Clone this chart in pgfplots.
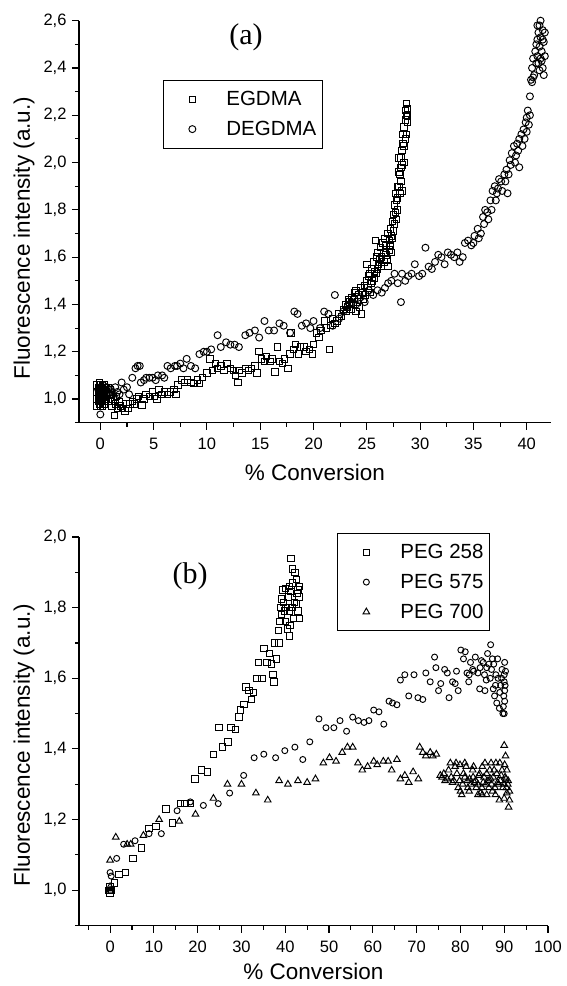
\documentclass[border=0pt]{standalone}
\usepackage{fontspec}
\setmainfont{Liberation Sans}
\newfontfamily\timesfont{Liberation Serif}
\usepackage{pgfplots}
\pgfplotsset{compat=1.18}

% circle with a dot in the middle (PEG 575)
\pgfdeclareplotmark{odot}{%
  \pgfpathcircle{\pgfpointorigin}{\pgfplotmarksize}\pgfusepathqstroke
  \pgfpathcircle{\pgfpointorigin}{0.3\pgfplotmarksize}\pgfusepathqfill}

\pgfplotsset{
  origin/.style={
    scale only axis,
    axis lines=left,
    x axis line style={-}, y axis line style={-},
    axis line style={line width=1.1pt},
    tick align=outside,
    major tick length=7pt, minor tick length=4pt,
    every tick/.style={black, line width=1.1pt},
    tick label style={font=\fontsize{16.5}{18}\selectfont},
    xticklabel style={yshift=-5pt},
    yticklabel style={xshift=-2pt},
    label style={font=\fontsize{22.5}{24}\selectfont, inner sep=1pt},
    /pgf/number format/assume math mode=true,
    yticklabel style={/pgf/number format/.cd, fixed, fixed zerofill, precision=1, use comma},
    legend cell align=left,
    legend style={draw=black, line width=0.8pt, inner xsep=6pt, inner ysep=11pt,
      row sep=14pt, font=\fontsize{20.5}{22}\selectfont,
      nodes={inner sep=0pt}},
    legend image code/.code={%
      \path[draw=none] (-23pt,0pt) -- (34pt,0pt);
      \draw[##1] plot[only marks] coordinates {(0pt,0pt)};},
  },
  pts/.style={only marks, mark options={solid, black, line width=0.95pt, fill=white}},
}

\begin{document}
\begin{tikzpicture}
\useasboundingbox (0,0) rectangle (566pt,986pt);

% ---- panel (a) ----
\begin{axis}[origin,
  at={(79pt,563.3pt)}, anchor=south west,
  width=471.7pt, height=402pt,
  xmin=-2, xmax=42.25, ymin=0.9, ymax=2.6,
  xtick={0,5,...,40}, minor xtick={2.5,7.5,...,37.5},
  ytick={1.0,1.2,...,2.6}, minor ytick={0.9,1.1,1.3,1.5,1.7,1.9,2.1,2.3,2.5},
  xlabel={\% Conversion}, ylabel={Fluorescence intensity (a.u.)},
  xlabel style={at={(axis description cs:0.5,-0.125)}, anchor=center},
  ylabel style={at={(axis description cs:-0.1166,0.459)}, anchor=center},
  legend style={at={(axis description cs:0.178,0.8525)}, anchor=north west},
]
\addplot[pts, mark=square, mark size=3.2pt] coordinates {
(-0.3,1.06)(-0.3,1.03)(-0.3,1.00)(-0.3,0.97)(-0.2,1.05)(-0.2,1.02)(-0.2,0.99)
(-0.1,1.07)(-0.1,1.04)(-0.1,1.01)(-0.1,0.98)(0,1.06)(0,1.03)(0,1.00)(0,0.97)
(0.1,1.05)(0.1,1.02)(0.1,0.99)(0.2,1.06)(0.2,1.03)(0.2,1.00)(0.2,0.97)
(0.3,1.04)(0.3,1.01)(0.4,1.06)(0.4,1.02)(0.4,0.98)(0.5,1.05)(0.5,1.00)
(0.6,1.03)(0.7,1.05)(0.7,0.99)(0.8,1.02)(0.9,1.04)(1.0,0.99)(1.0,1.02)
(1.1,0.97)(1.2,1.00)(1.3,0.93)(1.4,0.98)(1.5,1.01)(1.6,0.96)(1.8,0.99)
(1.9,0.97)(2.1,0.96)(2.3,0.95)(2.4,0.98)(2.6,0.96)(2.8,0.98)(3.0,0.99)
(3.2,0.98)(3.4,1.00)(3.6,1.01)(3.9,0.975)(4.1,1.00)(4.3,1.02)(4.6,1.01)
(4.9,1.03)(5.1,1.01)(5.3,1.00)(5.5,1.04)(5.8,1.02)(6.0,1.03)(6.3,1.02)
(6.6,1.03)(6.9,1.04)(7.1,1.02)(7.3,1.06)(7.6,1.08)(7.9,1.07)(8.2,1.08)
(8.5,1.07)(8.8,1.065)(9.1,1.08)(9.3,1.065)(9.6,1.09)(10.0,1.11)(10.3,1.17)
(10.5,1.12)(10.8,1.15)(11.0,1.13)(11.3,1.14)(11.6,1.12)(11.9,1.15)(12.2,1.13)
(12.5,1.12)(12.7,1.10)(12.9,1.07)(13.0,1.12)(13.3,1.11)(13.6,1.13)(13.9,1.12)
(14.2,1.13)(14.5,1.14)(14.7,1.11)(14.9,1.20)(15.1,1.17)(15.4,1.16)(15.6,1.18)
(15.9,1.16)(16.1,1.17)(16.4,1.115)(16.6,1.22)(16.8,1.16)(17.1,1.15)(17.3,1.17)
(17.6,1.13)(17.8,1.19)(17.9,1.28)(18.1,1.21)(18.3,1.23)(18.6,1.19)(18.8,1.22)
(19.1,1.22)(19.3,1.20)(19.6,1.21)(19.9,1.19)(20.0,1.23)(20.3,1.28)(20.5,1.26)
(20.7,1.29)(21.0,1.33)(21.2,1.30)(21.5,1.21)(21.6,1.31)(21.8,1.34)(22.0,1.32)
(22.2,1.33)(22.4,1.36)(22.6,1.35)(22.8,1.38)(23.0,1.40)(23.2,1.39)(23.4,1.41)
(23.6,1.43)(23.8,1.42)(24.0,1.46)(24.0,1.37)(24.2,1.44)(24.4,1.47)(24.5,1.36)
(24.6,1.45)(24.8,1.48)(25.0,1.57)(25.0,1.50)(25.2,1.52)(25.3,1.53)(25.4,1.49)
(25.5,1.55)(25.6,1.58)(25.7,1.54)(25.8,1.67)(25.9,1.60)(26.0,1.62)(26.1,1.57)
(26.3,1.64)(26.4,1.60)(26.5,1.66)(26.6,1.62)(26.7,1.68)(26.8,1.65)(27.0,1.56)
(27.0,1.70)(27.1,1.67)(27.2,1.72)(27.3,1.69)(27.4,1.75)(27.5,1.78)(27.6,1.82)
(27.7,1.87)(27.8,1.84)(27.9,1.80)(28.0,2.02)(28.0,1.90)(28.1,1.95)(28.2,1.98)
(28.3,2.05)(28.4,2.12)(28.4,2.08)(28.5,2.15)(28.6,2.18)(28.6,2.10)(28.7,2.25)
(28.7,2.20)(28.8,2.23)(28.8,2.17)(28.2,1.92)(28.3,1.88)(27.9,1.85)
(23.1,1.37)(23.3,1.42)(23.5,1.38)(23.7,1.40)(23.9,1.45)(24.1,1.41)(24.3,1.39)
(24.7,1.42)(24.9,1.44)(25.1,1.47)(25.3,1.45)(25.5,1.50)(25.7,1.51)(25.9,1.53)
(26.0,1.55)(26.2,1.59)(26.4,1.56)(26.6,1.58)(26.8,1.61)(26.9,1.59)(27.1,1.63)
(27.2,1.65)(27.3,1.62)(27.4,1.68)(27.5,1.71)(27.6,1.74)(27.7,1.79)(27.8,1.76)
(27.9,1.90)(28.0,1.96)(28.1,1.87)(28.2,2.02)(28.3,1.99)(28.5,2.07)(28.6,2.22)
(28.7,2.12)(28.8,2.20)(28.5,2.00)
};
\addlegendentry{EGDMA}
\addplot[pts, mark=o, mark size=3.5pt] coordinates {
(-0.2,1.04)(-0.1,1.02)(0,0.935)(0,1.05)(0.1,1.03)(0.2,1.06)(0.3,1.01)(0.4,1.04)
(0.5,1.02)(0.6,1.05)(0.8,1.03)(1.0,1.04)(1.2,1.02)(1.4,1.05)(1.6,1.03)(1.8,1.02)
(2.0,1.07)(2.2,1.04)(2.5,1.05)(2.7,1.02)(3.0,1.09)(3.3,1.13)(3.5,1.14)(3.7,1.14)
(3.8,1.07)(4.1,1.08)(4.3,1.09)(4.6,1.09)(4.9,1.09)(5.2,1.08)(5.4,1.10)(5.8,1.10)
(6.0,1.09)(6.3,1.14)(6.6,1.13)(7.0,1.14)(7.2,1.14)(7.5,1.15)(7.8,1.13)(8.1,1.17)
(8.5,1.14)(8.9,1.13)(9.3,1.19)(9.7,1.20)(10.0,1.20)(10.4,1.21)(11.0,1.27)
(11.3,1.22)(11.8,1.24)(12.2,1.23)(12.6,1.23)(13.0,1.22)(13.6,1.27)(14.0,1.28)
(14.5,1.29)(14.9,1.26)(15.4,1.33)(15.8,1.29)(16.3,1.29)(16.8,1.32)(17.2,1.31)
(17.8,1.28)(18.2,1.37)(18.5,1.36)(18.9,1.31)(19.3,1.32)(19.7,1.30)(20.0,1.33)
(20.6,1.30)(21.0,1.37)(21.4,1.36)(21.8,1.31)(22.0,1.44)(22.4,1.34)(22.8,1.37)
(23.2,1.39)(23.6,1.41)(24.0,1.40)(24.4,1.43)(24.8,1.41)(25.2,1.46)(25.6,1.44)
(26.0,1.46)(26.4,1.45)(26.7,1.47)(27.0,1.49)(27.3,1.50)(27.6,1.53)(27.9,1.49)
(28.2,1.41)(28.3,1.53)(28.6,1.50)(28.9,1.52)(29.2,1.53)(29.5,1.57)(29.9,1.52)
(30.2,1.53)(30.5,1.64)(30.8,1.56)(31.1,1.55)(31.4,1.58)(31.7,1.61)(32.0,1.60)
(32.3,1.57)(32.6,1.62)(32.9,1.61)(33.2,1.60)(33.5,1.62)(33.7,1.58)(34.0,1.60)
(34.2,1.66)(34.5,1.67)(34.8,1.65)(35.1,1.69)(35.4,1.72)(35.7,1.70)(35.9,1.77)
(36.1,1.80)(36.3,1.79)(36.6,1.84)(36.8,1.88)(37.0,1.90)(37.2,1.87)(37.4,1.93)
(37.6,1.92)(37.9,1.95)(38.1,1.97)(38.2,1.87)(38.4,2.01)(38.6,2.04)(38.8,2.07)
(39.0,2.03)(39.1,2.08)(39.3,2.10)(39.3,1.98)(39.5,2.12)(39.7,2.14)(39.9,2.17)
(40.0,2.19)(40.1,2.22)(40.3,2.28)(40.4,2.35)(40.5,2.40)(40.6,2.44)(40.7,2.37)
(40.8,2.47)(40.9,2.42)(41.0,2.52)(41.0,2.45)(41.1,2.55)(41.2,2.49)(41.2,2.58)
(41.3,2.60)(41.3,2.53)(41.4,2.47)(41.5,2.56)(41.5,2.40)(41.6,2.51)(41.6,2.37)
(41.7,2.55)(41.4,2.43)
(35.0,1.66)(35.5,1.68)(36.0,1.74)(36.4,1.76)(36.7,1.80)(37.1,1.84)(37.3,1.89)
(37.7,1.88)(38.0,1.92)(38.3,1.95)(38.5,1.99)(38.9,2.00)(39.2,2.05)(39.6,2.07)
(39.8,2.10)(40.0,2.13)(40.2,2.16)(40.3,2.20)(40.6,2.36)(40.9,2.50)(41.1,2.42)
(41.5,2.52)(41.7,2.45)(41.2,2.39)(40.5,2.34)(41.0,2.58)(41.3,2.44)
};
\addlegendentry{DEGDMA}
\node[font=\timesfont\fontsize{30}{30}\selectfont] at (axis description cs:0.354,0.958) {(a)};
\end{axis}

% ---- panel (b) ----
\begin{axis}[origin,
  at={(79pt,60.5pt)}, anchor=south west,
  width=469pt, height=388.5pt,
  xmin=-7.1, xmax=100, ymin=0.9, ymax=2.0,
  xtick={0,10,...,100}, minor xtick={-5,5,...,95},
  ytick={1.0,1.2,...,2.0}, minor ytick={0.9,1.1,1.3,1.5,1.7,1.9},
  xlabel={\% Conversion}, ylabel={Fluorescence intensity (a.u.)},
  xlabel style={at={(axis description cs:0.5,-0.119)}, anchor=center},
  ylabel style={at={(axis description cs:-0.1173,0.465)}, anchor=center},
  legend style={at={(axis description cs:0.550,1.0103)}, anchor=north west},
]
\addplot[pts, mark=square, mark size=3.2pt] coordinates {
(0,0.99)(0,1.01)(-0.3,1.00)(0.3,1.00)(1,1.02)(2,1.045)(3.5,1.05)(5.2,1.09)
(7.2,1.12)(8.9,1.175)(10.5,1.18)(12.8,1.23)(14.2,1.19)(16.1,1.245)(17.1,1.245)
(18.3,1.245)(19.4,1.315)(20.8,1.34)(22.2,1.335)(23.6,1.385)(24.9,1.46)(25.7,1.405)
(26.9,1.42)(27.6,1.46)(28.6,1.455)(29.4,1.49)(29.8,1.51)(30.6,1.525)(31.0,1.575)
(31.7,1.565)(32.3,1.54)(32.7,1.56)(33.5,1.60)(33.9,1.645)(34.7,1.60)(35.1,1.685)
(35.8,1.645)(36.4,1.67)(36.8,1.64)(37.2,1.61)(37.4,1.59)(37.6,1.70)(38.0,1.655)
(38.4,1.735)(38.6,1.70)(38.8,1.76)(39.0,1.80)(39.2,1.825)(39.2,1.78)(39.4,1.85)
(39.6,1.815)(39.8,1.79)(40.0,1.855)(40.0,1.76)(40.2,1.80)(40.5,1.74)(40.7,1.83)
(40.9,1.72)(40.9,1.79)(41.0,1.86)(41.1,1.75)(41.3,1.94)(41.3,1.845)(41.5,1.80)
(41.7,1.91)(41.7,1.87)(41.9,1.77)(42.1,1.815)(42.2,1.90)(42.5,1.88)(42.5,1.81)
(42.7,1.84)(42.9,1.85)(42.9,1.79)(43.1,1.83)(43.2,1.77)(43.3,1.86)
};
\addlegendentry{PEG 258}
\addplot[pts, mark=odot, mark size=3.0pt] coordinates {
(0,1.05)(0.25,1.04)(1.5,1.09)(3.1,1.13)(5.7,1.14)(8.9,1.16)(11.7,1.16)(15.3,1.225)
(18.3,1.25)(21.3,1.24)(24.7,1.245)(27.3,1.275)(30.5,1.325)(32.9,1.375)(35.1,1.385)
(37.8,1.375)(39.9,1.395)(42.2,1.405)(44.0,1.37)(45.6,1.42)(47.7,1.485)(49.3,1.46)
(51.1,1.46)(52.5,1.48)(54.0,1.45)(55.4,1.49)(56.7,1.48)(58.0,1.475)(59.1,1.48)
(60.2,1.51)(61.4,1.505)(62.5,1.47)(63.7,1.535)(64.5,1.53)(65.5,1.525)(66.3,1.595)
(67.3,1.61)(68.2,1.55)(69.4,1.61)(70.3,1.545)(71.4,1.54)(72.1,1.615)(73.1,1.59)
(74.1,1.66)(74.4,1.63)(75.0,1.565)(75.5,1.585)(76.4,1.625)(77.0,1.615)(77.4,1.545)
(78.2,1.59)(78.8,1.585)(79.1,1.62)(79.5,1.565)(80.1,1.68)(80.7,1.655)(81.1,1.675)
(81.5,1.615)(81.9,1.59)(82.3,1.645)(82.8,1.625)(83.4,1.66)(84.0,1.615)(84.4,1.57)
(84.8,1.65)(85.2,1.645)(85.6,1.565)(85.9,1.595)(86.2,1.67)(86.5,1.64)(86.9,1.695)
(87.1,1.625)(87.3,1.655)(87.5,1.57)(87.8,1.55)(88.1,1.61)(88.3,1.53)(88.5,1.655)
(88.9,1.515)(89.2,1.58)(89.5,1.625)(89.7,1.50)(89.9,1.55)(90.0,1.59)(90.1,1.535)
(90.1,1.565)(90.1,1.645)(90.0,1.61)(84.5,1.63)(85.5,1.61)(86.0,1.63)(86.8,1.60)
(87.6,1.64)(88.0,1.58)(88.6,1.60)(89.0,1.56)(89.4,1.60)(89.8,1.52)(90.2,1.58)
(90.3,1.62)(90.0,1.50)(83.0,1.62)(82.0,1.61)
};
\addlegendentry{PEG 575}
\addplot[pts, mark=triangle, mark size=3.8pt] coordinates {
(0,1.01)(0,1.00)(0,1.085)(1.3,1.15)(3.9,1.13)(4.7,1.13)(7.6,1.155)(11.2,1.20)
(15.8,1.195)(19.5,1.215)(23.6,1.26)(26.8,1.30)(30.0,1.30)(33.3,1.275)(36.0,1.255)
(38.6,1.31)(40.6,1.30)(42.9,1.31)(45.0,1.305)(46.9,1.315)(48.7,1.36)(50.1,1.375)
(51.6,1.365)(53.0,1.39)(54.2,1.405)(55.4,1.405)(56.6,1.36)(57.6,1.34)(58.8,1.35)
(60.2,1.365)(61.0,1.355)(62.4,1.365)(63.5,1.365)(64.3,1.34)(65.5,1.37)(66.3,1.315)
(67.3,1.325)(68.2,1.305)(69.2,1.335)(70.4,1.315)(70.7,1.405)(71.4,1.39)(72.1,1.38)
(73.1,1.39)(73.7,1.38)(74.5,1.385)(75.4,1.325)(76.2,1.33)(77.0,1.315)(77.7,1.36)
(78.2,1.305)(78.8,1.35)(79.5,1.29)(79.9,1.355)(80.3,1.27)(80.7,1.33)(81.3,1.35)
(81.7,1.29)(82.1,1.315)(82.8,1.34)(83.2,1.305)(83.6,1.29)(84.2,1.325)(84.6,1.275)
(85.2,1.305)(85.6,1.36)(86.0,1.33)(86.5,1.29)(86.9,1.315)(87.3,1.28)(87.7,1.34)
(88.1,1.36)(88.5,1.305)(88.9,1.255)(89.3,1.325)(89.7,1.29)(90.0,1.41)(90.1,1.355)
(90.4,1.315)(90.6,1.275)(91.0,1.235)(90.8,1.30)(91.2,1.255)(90.6,1.34)
(75.8,1.32)(76.5,1.31)(77.3,1.34)(77.9,1.32)(78.5,1.31)(79.2,1.33)(79.8,1.31)
(80.5,1.30)(81.0,1.32)(81.6,1.31)(82.4,1.30)(82.9,1.32)(83.5,1.31)(84.0,1.30)
(84.4,1.33)(84.9,1.29)(85.4,1.32)(85.8,1.30)(86.3,1.31)(86.7,1.34)(87.1,1.30)
(87.5,1.32)(87.9,1.29)(88.3,1.33)(88.7,1.30)(89.1,1.31)(89.5,1.34)(89.9,1.30)
(90.2,1.32)(90.5,1.29)(90.9,1.31)(91.2,1.28)(80.0,1.28)(82.0,1.28)(84.0,1.27)
(86.0,1.27)(88.0,1.27)(79.0,1.36)(81.0,1.36)(83.0,1.35)(85.0,1.35)(87.0,1.36)
(89.0,1.36)(90.3,1.38)(90.0,1.26)(85.0,1.27)
};
\addlegendentry{PEG 700}
\node[font=\timesfont\fontsize{30}{30}\selectfont] at (axis description cs:0.237,0.90) {(b)};
\end{axis}
\end{tikzpicture}
\end{document}
